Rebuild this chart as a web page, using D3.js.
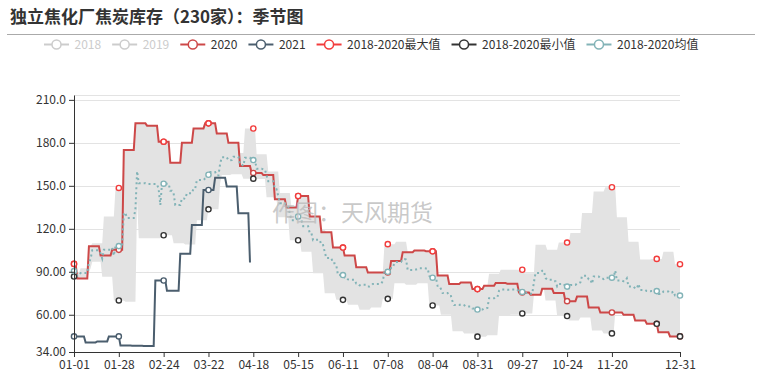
<!DOCTYPE html>
<html>
<head>
<meta charset="utf-8">
<script src="https://cdn.jsdelivr.net/npm/d3@7"></script>
<style>
  body { margin: 0; background: #fff; }
  svg { display: block; font-family: "Microsoft YaHei", "Noto Sans CJK SC", sans-serif; }
</style>
</head>
<body>
<svg id="chart" width="762" height="377"></svg>
<script>
// x axis labels (MM-DD on a 366 day calendar)
const xTickLabels = ['01-01', '01-28', '02-24', '03-22', '04-18', '05-15', '06-11', '07-08',
  '08-04', '08-31', '09-27', '10-24', '11-20', '12-31'];
const yTicks = [34, 60, 90, 120, 150, 180, 210];
const legendNames = ['2018', '2019', '2020', '2021', '2018-2020最大值', '2018-2020最小值', '2018-2020均值'];

// weekly data, one value per Friday; first value is the one carried over from last year
const values2018 = [89.3, 92.5, 110, 128.5, 148.5, 138.5, 113.4, 113.4, 158.2, 133.7, 145.4, 146, 151.6,
  165.8, 173, 190, 172, 160, 145, 131, 118.5, 119.4, 106, 85.8, 85, 86, 90, 109.3, 111, 89, 90.7, 86.8,
  78, 70.5, 68, 68.3, 88.6, 91.4, 91.4, 89, 108.8, 105.3, 110.4, 117, 131, 146, 149, 128, 111, 98.5,
  99, 104, 95.3];
const values2019 = [86.7, 89.5, 97, 86.5, 70, 69, 148.4, 148.4, 115.5, 110, 109, 126, 133.6, 157.6, 158,
  155, 154.8, 142, 128, 112, 104, 89, 75, 70.4, 67, 63.5, 65, 71.1, 82, 81, 82, 66.5, 60, 48.5, 47, 44.7,
  45.7, 59.6, 60, 60.9, 85, 70, 59.1, 56, 58, 49, 47, 62, 68, 77.5, 76.8, 77, 80];
const values2020 = [95.5, 85.3, 107.9, 101.3, 105.3, 175, 193.6, 192, 180.8, 166.1, 180, 190.1, 193.6,
  186.6, 180, 163.8, 159, 157.5, 140.6, 134.8, 142.9, 128.5, 117.6, 106.9, 101.3, 93.2, 89.5, 89.5, 97.6,
  103.7, 104.8, 104.3, 87.4, 81.4, 82.5, 77.9, 80.2, 82.1, 81.6, 75.5, 73.9, 78.1, 75.1, 69.5, 72.7, 65.1,
  61.6, 61.6, 60.0, 56.0, 53.7, 47.7, 44.9];
// 2021 starts on a Friday (01-01), last release 04-16
const values2021 = [44.9, 40.7, 41.4, 44.9, 38.5, 38.3, 38.2, 83.9, 76.7, 102.5, 122.7, 147.1, 155.7,
  149.6, 130.9, 96.5];

const colors = {
  hidden: '#ccc',
  y2020: '#cd4848',
  y2021: '#4b5e6e',
  max: '#f23c3c',
  min: '#333',
  mean: '#82b3b7',
  band: '#e3e3e3'
};

// day index of a date on the 2020 (leap) calendar
function toIndex(date) {
  return d3.timeDay.count(new Date(2020, 0, 1), new Date(2020, date.getMonth(), date.getDate()));
}

// forward fill weekly values over 366 days
function dailyValues(year, weekly, endDate) {
  let fridays = d3.timeFriday.range(new Date(year, 0, 1), endDate || new Date(year + 1, 0, 1));
  let starts = fridays.map(toIndex);
  if (starts[0] !== 0) starts.unshift(0);
  let out = [];
  for (let d = 0; d <= 365; d++) {
    let i = d3.bisectRight(starts, d) - 1;
    if (endDate && d > starts[starts.length - 1]) out.push(null);
    else out.push(weekly[i]);
  }
  return out;
}

class SeasonChart {

  constructor(_config) {
    this.config = {
      parentElement: _config.parentElement
    };
    this.initVis();
  }

  initVis() {
    let vis = this;
    vis.svg = d3.select(vis.config.parentElement);

    vis.x = d3.scaleLinear().domain([0, 365]).range([74, 680]);
    vis.y = d3.scaleLinear().domain([34, 213.4]).range([352, 95]);

    // title + separator
    vis.svg.append('text')
      .attr('x', 10).attr('y', 23)
      .attr('font-size', 17).attr('font-weight', 'bold')
      .attr('fill', '#333')
      .text('独立焦化厂焦炭库存（230家）：季节图');
    vis.svg.append('line')
      .attr('x1', 7).attr('x2', 755).attr('y1', 34.5).attr('y2', 34.5)
      .attr('stroke', '#aaa');

    // grid
    vis.svg.append('g').selectAll('line')
      .data(yTicks.concat([vis.y.domain()[1]]))
      .join('line')
      .attr('x1', 74).attr('x2', 680)
      .attr('y1', d => Math.round(vis.y(d)) + 0.5)
      .attr('y2', d => Math.round(vis.y(d)) + 0.5)
      .attr('stroke', '#e3e3e3');

    vis.buildData();
    vis.renderVis();
    vis.renderAxes();
    vis.renderLegend();

    // watermark
    vis.svg.append('text')
      .attr('x', 272).attr('y', 221)
      .attr('font-size', 23)
      .attr('fill', '#bbb').attr('fill-opacity', 0.8)
      .text('作图：天风期货');
  }

  buildData() {
    let vis = this;
    vis.d2018 = dailyValues(2018, values2018);
    vis.d2019 = dailyValues(2019, values2019);
    vis.d2020 = dailyValues(2020, values2020);
    vis.d2021 = dailyValues(2021, values2021, new Date(2021, 3, 17));

    vis.dMax = [];
    vis.dMin = [];
    vis.dMean = [];
    for (let d = 0; d <= 365; d++) {
      let vals = [vis.d2018[d], vis.d2019[d], vis.d2020[d]];
      vis.dMax.push(d3.max(vals));
      vis.dMin.push(d3.min(vals));
      vis.dMean.push(d3.mean(vals));
    }

    vis.tickDays = xTickLabels.map(s => toIndex(new Date(2020, +s.slice(0, 2) - 1, +s.slice(3))));
    vis.symbolDays = d3.range(0, 365, 27).concat([365]);
  }

  renderVis() {
    let vis = this;
    let line = d3.line()
      .defined(d => d != null)
      .x((d, i) => vis.x(i))
      .y(d => vis.y(d));

    // min-max band
    vis.svg.append('path')
      .datum(d3.range(0, 366))
      .attr('fill', colors.band)
      .attr('d', d3.area()
        .x(d => vis.x(d))
        .y0(d => vis.y(vis.dMin[d]))
        .y1(d => vis.y(vis.dMax[d])));

    vis.svg.append('path').datum(vis.d2020)
      .attr('fill', 'none').attr('stroke', colors.y2020).attr('stroke-width', 2)
      .attr('d', line);
    vis.svg.append('path').datum(vis.d2021)
      .attr('fill', 'none').attr('stroke', colors.y2021).attr('stroke-width', 2)
      .attr('d', line);
    vis.svg.append('path').datum(vis.dMean)
      .attr('fill', 'none').attr('stroke', colors.mean).attr('stroke-width', 2)
      .attr('stroke-dasharray', '2,3')
      .attr('d', line);

    let symbolSets = [
      [vis.d2020, colors.y2020],
      [vis.d2021, colors.y2021],
      [vis.dMax, colors.max],
      [vis.dMin, colors.min],
      [vis.dMean, colors.mean]
    ];
    symbolSets.forEach(([data, color]) => {
      vis.svg.append('g').selectAll('circle')
        .data(vis.symbolDays.filter(d => data[d] != null))
        .join('circle')
        .attr('cx', d => vis.x(d))
        .attr('cy', d => vis.y(data[d]))
        .attr('r', 2.6)
        .attr('fill', '#fff')
        .attr('stroke', color)
        .attr('stroke-width', 1.4);
    });
  }

  renderAxes() {
    let vis = this;
    let yAxis = vis.svg.append('g')
      .attr('transform', 'translate(74,0)')
      .call(d3.axisLeft(vis.y).tickValues(yTicks).tickFormat(d => d.toPrecision(4))
        .tickSize(5).tickSizeOuter(0));
    let xAxis = vis.svg.append('g')
      .attr('transform', 'translate(0,352)')
      .call(d3.axisBottom(vis.x).tickValues(vis.tickDays).tickFormat((d, i) => xTickLabels[i])
        .tickSize(5).tickSizeOuter(0));

    [yAxis, xAxis].forEach(g => {
      g.attr('font-family', null).attr('font-size', 12);
      g.select('.domain').attr('stroke', '#333');
      g.selectAll('.tick line').attr('stroke', '#333');
      g.selectAll('.tick text').attr('fill', '#333');
    });
  }

  renderLegend() {
    let vis = this;
    let legendColors = [colors.hidden, colors.hidden, colors.y2020, colors.y2021, colors.max, colors.min, colors.mean];
    let legend = vis.svg.append('g').attr('transform', 'translate(44,0)');
    let cx = 0;
    legendNames.forEach((name, i) => {
      let item = legend.append('g').attr('transform', `translate(${cx},0)`);
      item.append('line')
        .attr('x1', 0).attr('x2', 25).attr('y1', 44.5).attr('y2', 44.5)
        .attr('stroke', legendColors[i]).attr('stroke-width', 2);
      item.append('circle')
        .attr('cx', 12.5).attr('cy', 44.5).attr('r', 4.5)
        .attr('fill', '#fff').attr('stroke', legendColors[i]).attr('stroke-width', 1.5);
      let label = item.append('text')
        .attr('x', 30.5).attr('y', 48.8)
        .attr('font-size', 12)
        .attr('fill', i < 2 ? colors.hidden : '#333')
        .text(name);
      cx += 30.5 + label.node().getComputedTextLength() + 11;
    });
  }
}

new SeasonChart({ parentElement: '#chart' });
</script>
</body>
</html>
